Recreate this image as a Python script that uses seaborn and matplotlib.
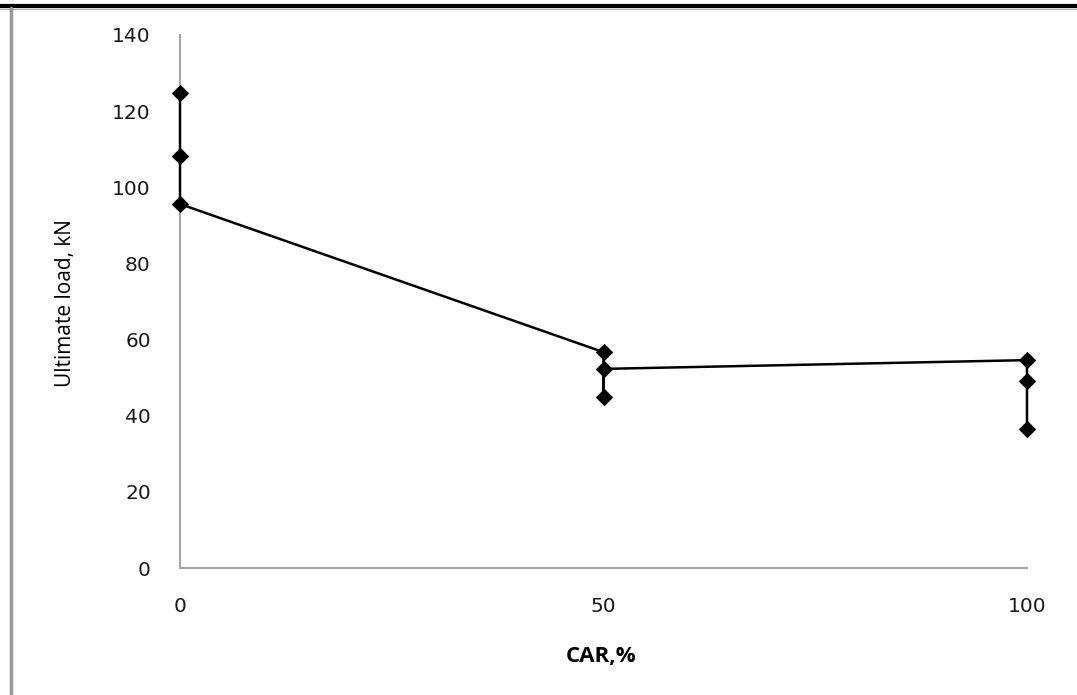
import pandas as pd
import numpy as np
import seaborn as sns
import matplotlib.pyplot as plt
from matplotlib.lines import Line2D

# CAR replacement level and ultimate load readings (order follows the drawn line)
car = [0, 0, 0, 50, 50, 50, 100, 100, 100]
load = [124.8, 108.2, 95.6, 56.7, 44.9, 52.3, 54.6, 49.1, 36.5]

df = pd.DataFrame({'CAR': car, 'load': load})

sns.set_style("white")
plt.rcParams['font.family'] = ['DejaVu Sans']

fig = plt.figure(figsize=(10.77, 6.95), dpi=100)
ax = fig.add_axes([180 / 1077, 1 - 568 / 695, (1027 - 180) / 1077, (568 - 35) / 695])

sns.lineplot(data=df, x='CAR', y='load', sort=False, estimator=None,
             color='black', linewidth=1.8, marker='D', markersize=8.5,
             markeredgecolor='black', ax=ax, zorder=5)
for ln in ax.lines:
    ln.set_clip_on(False)

ax.set_xlim(0, 100)
ax.set_ylim(0, 140)
ax.set_xticks([0, 50, 100])
ax.set_yticks(np.arange(0, 141, 20))
ax.tick_params(axis='both', length=0, labelsize=14.5, colors='#1a1a1a')
ax.tick_params(axis='y', pad=21)
ax.tick_params(axis='x', pad=21)

for side in ['top', 'right']:
    ax.spines[side].set_visible(False)
for side in ['left', 'bottom']:
    ax.spines[side].set_color('#a6a6a6')
    ax.spines[side].set_linewidth(1.5)
    ax.spines[side].set_zorder(1)

ax.set_xlabel('CAR,%', fontsize=16, fontweight='bold', color='black',
              family=['Open Sans', 'DejaVu Sans'])
ax.set_ylabel('Ultimate load, kN', fontsize=15, color='black',
              family=['Open Sans', 'DejaVu Sans'])
ax.xaxis.set_label_coords((601 - 180) / (1027 - 180), -(646 - 568) / (568 - 35))
ax.yaxis.set_label_coords(-(180 - 76) / (1027 - 180), (568 - 303) / (568 - 35))

# outer frame pieces visible in the screenshot
fig.add_artist(Line2D([0, 1], [1 - 6 / 695, 1 - 6 / 695], color='black', linewidth=3, transform=fig.transFigure))
fig.add_artist(Line2D([0, 1], [1 - 9 / 695, 1 - 9 / 695], color='#b0b0b0', linewidth=1, transform=fig.transFigure))
fig.add_artist(Line2D([11 / 1077, 11 / 1077], [0, 1 - 8 / 695], color='#999999', linewidth=2.5, transform=fig.transFigure))

fig.savefig("out.png", dpi=100)
